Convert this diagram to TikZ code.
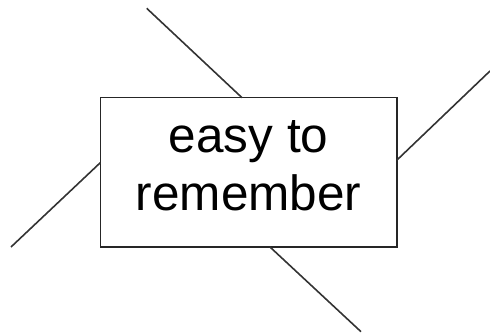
\documentclass[tikz,border=0pt]{standalone}
\usepackage{fontspec}
\setmainfont{Liberation Sans}
\begin{document}
\begin{tikzpicture}[x=1pt,y=-1pt,
  lineclr/.style={draw=black!80, line width=1.6pt},
  boxstyle/.style={draw=black!85, line width=1.5pt, rectangle, inner sep=0pt,
    minimum width=296.7pt, minimum height=149.3pt, align=center,
    font=\fontsize{49.5}{58}\selectfont, text=black}]
\useasboundingbox (0,0) rectangle (490,335);
\node[boxstyle] (box) at (248.65,172.35) {easy to\\remember\rule[-13pt]{0pt}{1pt}};
\coordinate (a1) at (146.7,8.3);
\coordinate (a2) at (242,97.7);
\coordinate (b1) at (270,247);
\coordinate (b2) at (361,331.7);
\coordinate (c1) at (11,247);
\coordinate (c2) at (100.3,162.7);
\coordinate (d1) at (397,160);
\coordinate (d2) at (490,71);
\draw[lineclr] (a1) -- (a2);
\draw[lineclr] (b1) -- (b2);
\draw[lineclr] (c1) -- (c2);
\draw[lineclr] (d1) -- (d2);
\end{tikzpicture}
\end{document}
